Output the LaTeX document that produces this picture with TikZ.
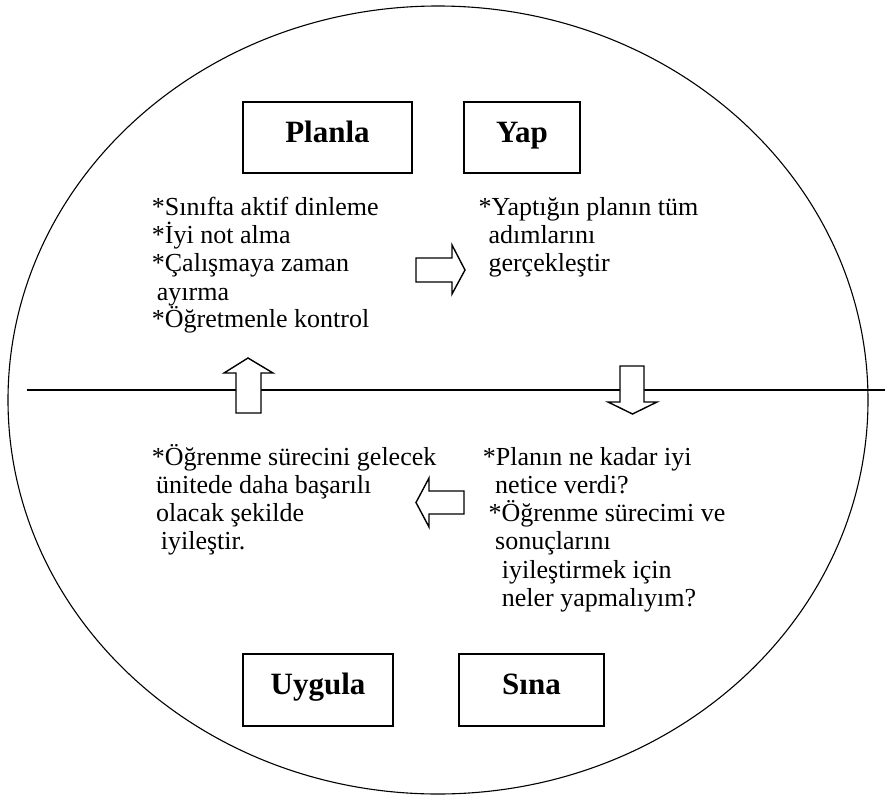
\documentclass[tikz,border=0pt]{standalone}
\usepackage{fontspec}
\setmainfont{Liberation Serif}
\begin{document}
\begin{tikzpicture}[x=1pt,y=-1pt,
  txt/.style={anchor=base west,inner sep=0pt,font=\fontsize{26}{28}\selectfont},
  lbl/.style={anchor=base,inner sep=0pt,font=\fontsize{31}{31}\selectfont\bfseries},
  box/.style={draw,line width=1.5pt,inner sep=0pt,rectangle},
  blk/.style={draw,line width=1.4pt,fill=white,line join=miter},
  divider/.style={line width=1.4pt},
  rim/.style={line width=1.1pt}]
\useasboundingbox (0,0) rectangle (885,795);
% outer ellipse
\draw[rim] (438,400) ellipse [x radius=430pt, y radius=394pt];
% dividing line
\coordinate (lineL) at (27,390);
\coordinate (lineR) at (885,390);
\draw[divider] (lineL) -- (lineR);
% boxes
\node[box,minimum width=169pt,minimum height=71pt] (planbox) at (327.5,137.5) {};
\node[box,minimum width=116pt,minimum height=71pt] (yapbox) at (522,137.5) {};
\node[box,minimum width=150pt,minimum height=72pt] (uygbox) at (318,690) {};
\node[box,minimum width=145pt,minimum height=72pt] (sinabox) at (531.5,690) {};
\node[lbl] (planla) at (327.5,142.5) {Planla};
\node[lbl] (yap) at (522,142.5) {Yap};
\node[lbl] (uygula) at (318,694.3) {Uygula};
\node[lbl] (sina) at (531.5,694.3) {Sına};
% block arrows
\draw[blk] (248,358) -- (273,373) -- (261,373) -- (261,413) -- (236,413) -- (236,373) -- (224,373) -- cycle;
\draw[blk] (632.5,414) -- (657,402) -- (644,402) -- (644,366) -- (620,366) -- (620,402) -- (608,402) -- cycle;
\draw[blk] (465,270) -- (452,245) -- (452,258) -- (416,258) -- (416,282) -- (452,282) -- (452,294) -- cycle;
\draw[blk] (416,502.5) -- (429,478) -- (429,491) -- (464,491) -- (464,514) -- (429,514) -- (429,527) -- cycle;
% Planla text
\node[txt] (p1) at (151.7,215) {*Sınıfta aktif dinleme};
\node[txt] (p2) at (151.7,243.3) {*İyi not alma};
\node[txt] (p3) at (151.7,271.7) {*Çalışmaya zaman};
\node[txt] (p4) at (156.7,300) {ayırma};
\node[txt] (p5) at (151.7,327.5) {*Öğretmenle kontrol};
% Yap text
\node[txt] (y1) at (478.3,215) {*Yaptığın planın tüm};
\node[txt] (y2) at (488.3,243.3) {adımlarını};
\node[txt] (y3) at (488.3,271.7) {gerçekleştir};
% Uygula text
\node[txt] (u1) at (151.7,465) {*Öğrenme sürecini gelecek};
\node[txt] (u2) at (156,493.3) {ünitede daha başarılı};
\node[txt] (u3) at (156,521.6) {olacak şekilde};
\node[txt] (u4) at (160.7,549.9) {iyileştir.};
% Sina text
\node[txt] (s1) at (482.7,465) {*Planın ne kadar iyi};
\node[txt] (s2) at (495,493.3) {netice verdi?};
\node[txt] (s3) at (488.3,521.6) {*Öğrenme sürecimi ve};
\node[txt] (s4) at (495,549.9) {sonuçlarını};
\node[txt] (s5) at (501.7,578.2) {iyileştirmek için};
\node[txt] (s6) at (501.7,606.5) {neler yapmalıyım?};
\end{tikzpicture}
\end{document}
